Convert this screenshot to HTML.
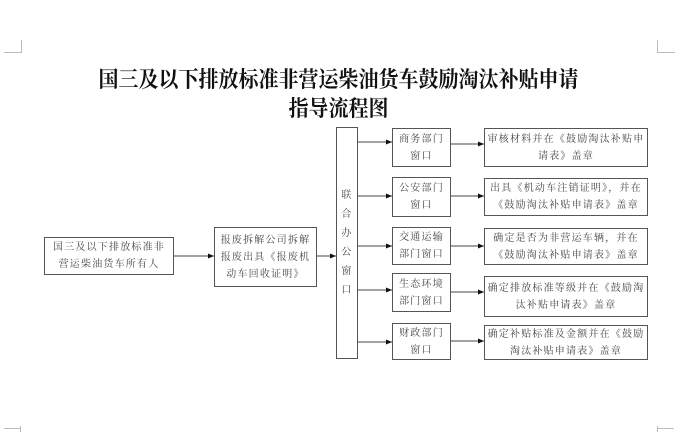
<!DOCTYPE html>
<html><head><meta charset="utf-8"><style>
body{margin:0;width:677px;height:432px;background:#fff;position:relative;overflow:hidden;font-family:"Liberation Serif","Noto Serif CJK SC",serif;color:#333}
.b{position:absolute;border:1px solid #555;box-sizing:border-box;display:flex;align-items:center;justify-content:center;text-align:center;font-size:10px;letter-spacing:1.2px;line-height:17px;color:#444}
.t{position:absolute;left:0;width:677px;text-align:center;font-weight:bold;font-size:20px;color:#111;font-family:"Noto Serif CJK SC",serif;transform:scaleY(1.1)}
.m{position:absolute;background:#bbb}
</style></head><body>
<div class="t" style="top:64px;line-height:28px">国三及以下排放标准非营运柴油货车鼓励淘汰补贴申请</div>
<div class="t" style="top:93px;line-height:28px">指导流程图</div>
<div class="m" style="left:21px;top:40px;width:1px;height:12px"></div>
<div class="m" style="left:4px;top:52px;width:18px;height:1px"></div>
<div class="m" style="left:657px;top:40px;width:1px;height:12px"></div>
<div class="m" style="left:657px;top:52px;width:18px;height:1px"></div>
<div class="m" style="left:20px;top:426px;width:1px;height:6px"></div>
<div class="m" style="left:4px;top:428px;width:17px;height:1px"></div>
<div class="m" style="left:657px;top:426px;width:1px;height:6px"></div>
<div class="m" style="left:657px;top:428px;width:17px;height:1px"></div>

<div class="b" style="left:44px;top:237px;width:130px;height:38px">国三及以下排放标准非<br>营运柴油货车所有人</div>
<div class="b" style="left:214px;top:227px;width:103px;height:60px">报废拆解公司拆解<br>报废出具《报废机<br>动车回收证明》</div>
<div class="b" style="left:336px;top:127px;width:22px;height:232px;line-height:19px">联<br>合<br>办<br>公<br>窗<br>口</div>

<div class="b" style="left:392px;top:128px;width:59px;height:39px">商务部门<br>窗口</div>
<div class="b" style="left:392px;top:177px;width:59px;height:40px">公安部门<br>窗口</div>
<div class="b" style="left:392px;top:227px;width:59px;height:38px">交通运输<br>部门窗口</div>
<div class="b" style="left:392px;top:273px;width:59px;height:39px">生态环境<br>部门窗口</div>
<div class="b" style="left:392px;top:323px;width:59px;height:37px">财政部门<br>窗口</div>

<div class="b" style="left:484px;top:128px;width:164px;height:39px">审核材料并在《鼓励淘汰补贴申<br>请表》盖章</div>
<div class="b" style="left:484px;top:178px;width:164px;height:38px">出具《机动车注销证明》，并在<br>《鼓励淘汰补贴申请表》盖章</div>
<div class="b" style="left:484px;top:228px;width:164px;height:37px">确定是否为非营运车辆，并在<br>《鼓励淘汰补贴申请表》盖章</div>
<div class="b" style="left:484px;top:276px;width:164px;height:41px">确定排放标准等级并在《鼓励淘<br>汰补贴申请表》盖章</div>
<div class="b" style="left:484px;top:325px;width:164px;height:35px">确定补贴标准及金额并在《鼓励<br>淘汰补贴申请表》盖章</div>

<svg width="677" height="432" style="position:absolute;left:0;top:0">
<defs><marker id="a" markerWidth="6" markerHeight="6" refX="6" refY="3" orient="auto" markerUnits="userSpaceOnUse"><path d="M0,0.5L6,3L0,5.5z" fill="#111"/></marker></defs>
<g stroke="#444" stroke-width="1" marker-end="url(#a)">
<line x1="174" y1="256" x2="214" y2="256"/>
<line x1="317" y1="256" x2="336" y2="256"/>
<line x1="358" y1="142" x2="392" y2="142"/>
<line x1="358" y1="196" x2="392" y2="196"/>
<line x1="358" y1="246" x2="392" y2="246"/>
<line x1="358" y1="290" x2="392" y2="290"/>
<line x1="358" y1="342" x2="392" y2="342"/>
<line x1="451" y1="144" x2="484" y2="144"/>
<line x1="451" y1="196" x2="484" y2="196"/>
<line x1="451" y1="246" x2="484" y2="246"/>
<line x1="451" y1="292" x2="484" y2="292"/>
<line x1="451" y1="341" x2="484" y2="341"/>
</g></svg>
</body></html>
